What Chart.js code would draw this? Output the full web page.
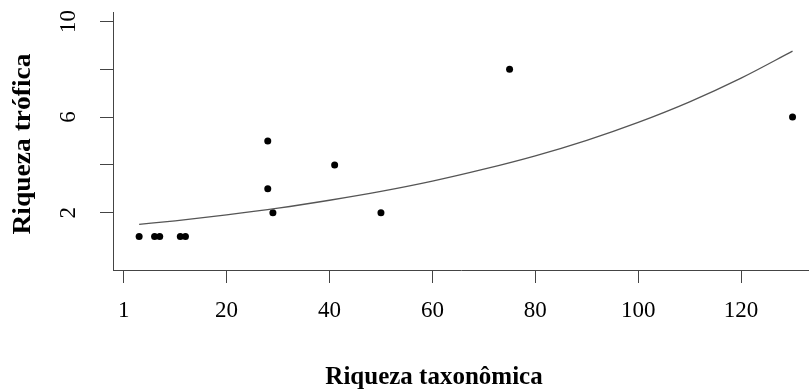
<!DOCTYPE html>
<html>
<head>
<meta charset="utf-8">
<script src="https://cdn.jsdelivr.net/npm/chart.js@4/dist/chart.umd.min.js"></script>
<style>
html,body{margin:0;padding:0;background:#fff;overflow:hidden;}
#wrap{width:809px;height:390px;overflow:hidden;}
</style>
</head>
<body>
<div id="wrap"><canvas id="c" width="813" height="390"></canvas></div>
<script>
// Observed points
const taxRichness = [3, 6, 7, 11, 12, 28, 28, 29, 41, 50, 75, 130];
const trophicRichness = [1, 1, 1, 1, 1, 5, 3, 2, 4, 2, 8, 6];
// Fitted curve
const curveX = [3, 10, 20, 30, 40, 50, 60, 70, 80, 90, 100, 110, 120, 130];
const curveY = [1.51, 1.66, 1.91, 2.19, 2.52, 2.89, 3.32, 3.82, 4.38, 5.03, 5.78, 6.64, 7.63, 8.76];
// Ticks
const xTickValues = [0, 20, 40, 60, 80, 100, 120];
const xTickLabels = ["1", "20", "40", "60", "80", "100", "120"];
const yTickValues = [2, 4, 6, 8, 10];
const yTickLabels = ["2", "", "6", "", "10"];
const xTitle = "Riqueza taxonômica";
const yTitle = "Riqueza trófica";

const axisColor = '#444';
const serif = '"Liberation Serif", "DejaVu Serif", serif';

const titlePlugin = {
  id: 'axisTitles',
  afterDraw(chart) {
    const ctx = chart.ctx;
    ctx.save();
    ctx.fillStyle = '#000';
    ctx.font = 'bold 25px ' + serif;
    ctx.textAlign = 'center';
    ctx.textBaseline = 'alphabetic';
    ctx.fillText(xTitle, 434, 384);
    ctx.translate(30, 144);
    ctx.rotate(-Math.PI / 2);
    ctx.scale(1.1, 1);
    ctx.fillText(yTitle, 0, 0);
    ctx.restore();
  }
};

function noPad(scale) {
  scale.paddingTop = 0; scale.paddingBottom = 0;
  scale.paddingLeft = 0; scale.paddingRight = 0;
}

new Chart(document.getElementById('c'), {
  data: {
    datasets: [
      {
        type: 'line',
        data: curveX.map((x, i) => ({x: x, y: curveY[i]})),
        borderColor: '#555',
        borderWidth: 1.3,
        pointRadius: 0,
        fill: false,
        cubicInterpolationMode: 'monotone'
      },
      {
        type: 'scatter',
        data: taxRichness.map((x, i) => ({x: x, y: trophicRichness[i]})),
        backgroundColor: '#000',
        borderColor: '#000',
        pointRadius: 3.5,
        borderWidth: 0
      }
    ]
  },
  options: {
    responsive: false,
    animation: false,
    layout: {padding: {top: 12, left: 0, right: 0, bottom: 0}},
    plugins: {legend: {display: false}, tooltip: {enabled: false}, title: {display: false}},
    scales: {
      x: {
        type: 'linear',
        min: -2.08,
        max: 133.2,
        afterBuildTicks(scale) { scale.ticks = xTickValues.map(v => ({value: v})); },
        afterFit(scale) { scale.height = 120; noPad(scale); },
        border: {display: true, color: axisColor, width: 1},
        grid: {display: true, drawOnChartArea: false, drawTicks: true, tickLength: 13, color: axisColor},
        ticks: {
          color: '#000',
          font: {family: serif, size: 23},
          padding: 14,
          autoSkip: false,
          maxRotation: 0,
          callback(value, index) { return xTickLabels[index]; }
        }
      },
      y: {
        type: 'linear',
        min: -0.4,
        max: 10.4,
        afterBuildTicks(scale) { scale.ticks = yTickValues.map(v => ({value: v})); },
        afterFit(scale) { scale.width = 113; noPad(scale); },
        border: {display: true, color: axisColor, width: 1},
        grid: {display: true, drawOnChartArea: false, drawTicks: true, tickLength: 13, color: axisColor},
        ticks: {
          color: '#000',
          font: {family: serif, size: 23},
          padding: 20,
          autoSkip: false,
          minRotation: 90,
          maxRotation: 90,
          crossAlign: 'center',
          callback(value, index) { return yTickLabels[index]; }
        }
      }
    }
  },
  plugins: [titlePlugin]
});
</script>
</body>
</html>
